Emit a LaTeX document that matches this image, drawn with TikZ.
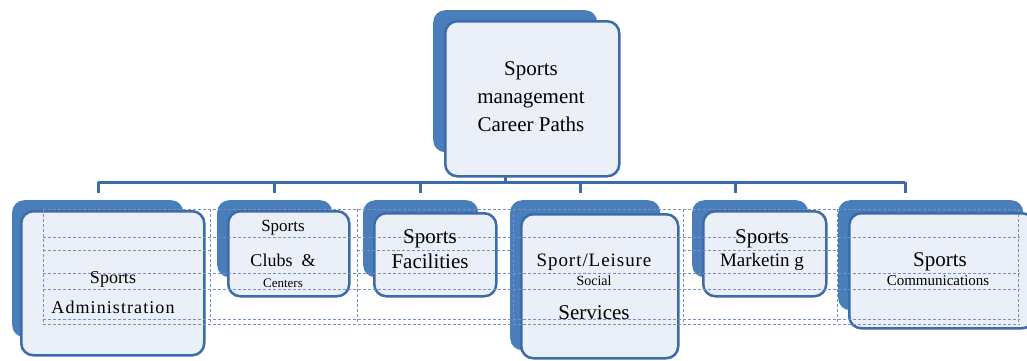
\documentclass[tikz,border=0pt]{standalone}
\usepackage{fontspec}
\setmainfont{Liberation Serif}
\definecolor{bblue}{HTML}{4A7EBB}
\definecolor{bfill}{HTML}{EBF0F8}
\definecolor{bline}{HTML}{3C6BA9}
\definecolor{gridc}{HTML}{7391C4}
\tikzset{
  backbox/.style={fill=bblue, draw=none, rounded corners=12pt, anchor=north west, inner sep=0pt},
  frontbox/.style={fill=bfill, draw=bline, line width=2.5pt, rounded corners=12pt, anchor=north west, inner sep=0pt},
  busline/.style={draw=bline, line width=3pt},
  gridline/.style={draw=gridc, line width=0.8pt, dash pattern=on 3pt off 2pt},
  txt/.style={anchor=base, inner sep=0pt, text=black}
}
\newcommand{\fs}[1]{\fontsize{#1}{#1}\selectfont}
\begin{document}
\begin{tikzpicture}[x=1pt,y=-1pt]
\useasboundingbox (0,0) rectangle (1027,360);
% ---- boxes: back (shadow) then front
\node[backbox, minimum width=164pt, minimum height=142pt] (topB) at (433,10) {};
\node[frontbox, minimum width=174pt, minimum height=155pt] (top) at (444,20) {};

\node[backbox, minimum width=171pt, minimum height=137pt] (b1B) at (12,200) {};
\node[frontbox, minimum width=183pt, minimum height=144pt] (b1) at (20,210) {};

\node[backbox, minimum width=115pt, minimum height=77pt] (b2B) at (217,200) {};
\node[frontbox, minimum width=121pt, minimum height=85pt] (b2) at (227,210) {};

\node[backbox, minimum width=115pt, minimum height=77pt] (b3B) at (363,200) {};
\node[frontbox, minimum width=122pt, minimum height=83pt] (b3) at (373,212) {};

\node[backbox, minimum width=150pt, minimum height=150pt] (b4B) at (510,200) {};
\node[frontbox, minimum width=157pt, minimum height=144pt] (b4) at (520,213) {};

\node[backbox, minimum width=116pt, minimum height=77pt] (b5B) at (692,200) {};
\node[frontbox, minimum width=123pt, minimum height=85pt] (b5) at (702,210) {};

\node[backbox, minimum width=185pt, minimum height=110pt] (b6B) at (838,200) {};
\node[frontbox, minimum width=185pt, minimum height=115pt] (b6) at (848,212) {};

% ---- bus connectors
\coordinate (busL) at (98,182);
\coordinate (busR) at (905,182);
\coordinate (busC) at (505,182);
\coordinate (topS) at (505,175);
\foreach \n/\x in {1/98,2/274,3/420,4/580,5/735,6/905}{
  \coordinate (bt\n) at (\x,182);
  \coordinate (be\n) at (\x,193);
}
\draw[busline] (busL) -- (busR);
\draw[busline] (topS) -- (busC);
\foreach \n in {1,...,6}{ \draw[busline] (bt\n) -- (be\n); }

% ---- dashed table grid overlay
\foreach \y in {209,237,273,289,319,324}{
  \draw[gridline] (43,\y) -- (1020,\y);
}
\draw[gridline] (43,250) -- (210,250);
\draw[gridline] (357,250) -- (513,250);
\draw[gridline] (683,250) -- (837,250);
\foreach \x in {43,210,357,513,683,837,1018}{
  \draw[gridline] (\x,209) -- (\x,324);
}

% ---- texts
\node[txt, font=\fs{21}] (t1) at (531,75) {Sports};
\node[txt, font=\fs{21}] (t2) at (531,103) {management};
\node[txt, font=\fs{21}] (t3) at (531,131) {Career Paths};

\node[txt, font=\fs{18}] (a1) at (113,283) {Sports};
\node[txt, font=\fs{18}\addfontfeature{LetterSpace=6}] (a2) at (113,313) {Administration};

\node[txt, font=\fs{17}] (c1) at (283,231) {Sports};
\node[txt, font=\fs{18}] (c2) at (283,266) {Clubs\ \ \&};
\node[txt, font=\fs{13}] (c3) at (283,287) {Centers};

\node[txt, font=\fs{21}] (f1) at (430,243) {Sports};
\node[txt, font=\fs{21}] (f2) at (430,268) {Facilities};

\node[txt, font=\fs{19}\addfontfeature{LetterSpace=5}] (s1) at (594,266) {Sport/Leisure};
\node[txt, font=\fs{14}] (s2) at (594,285) {Social};
\node[txt, font=\fs{21}] (s3) at (594,319) {Services};

\node[txt, font=\fs{21}] (m1) at (762,243) {Sports};
\node[txt, font=\fs{19}] (m2) at (762,266) {Marketin g};

\node[txt, font=\fs{21}] (k1) at (940,266) {Sports};
\node[txt, font=\fs{15}] (k2) at (938,285) {Communications};
\end{tikzpicture}
\end{document}
